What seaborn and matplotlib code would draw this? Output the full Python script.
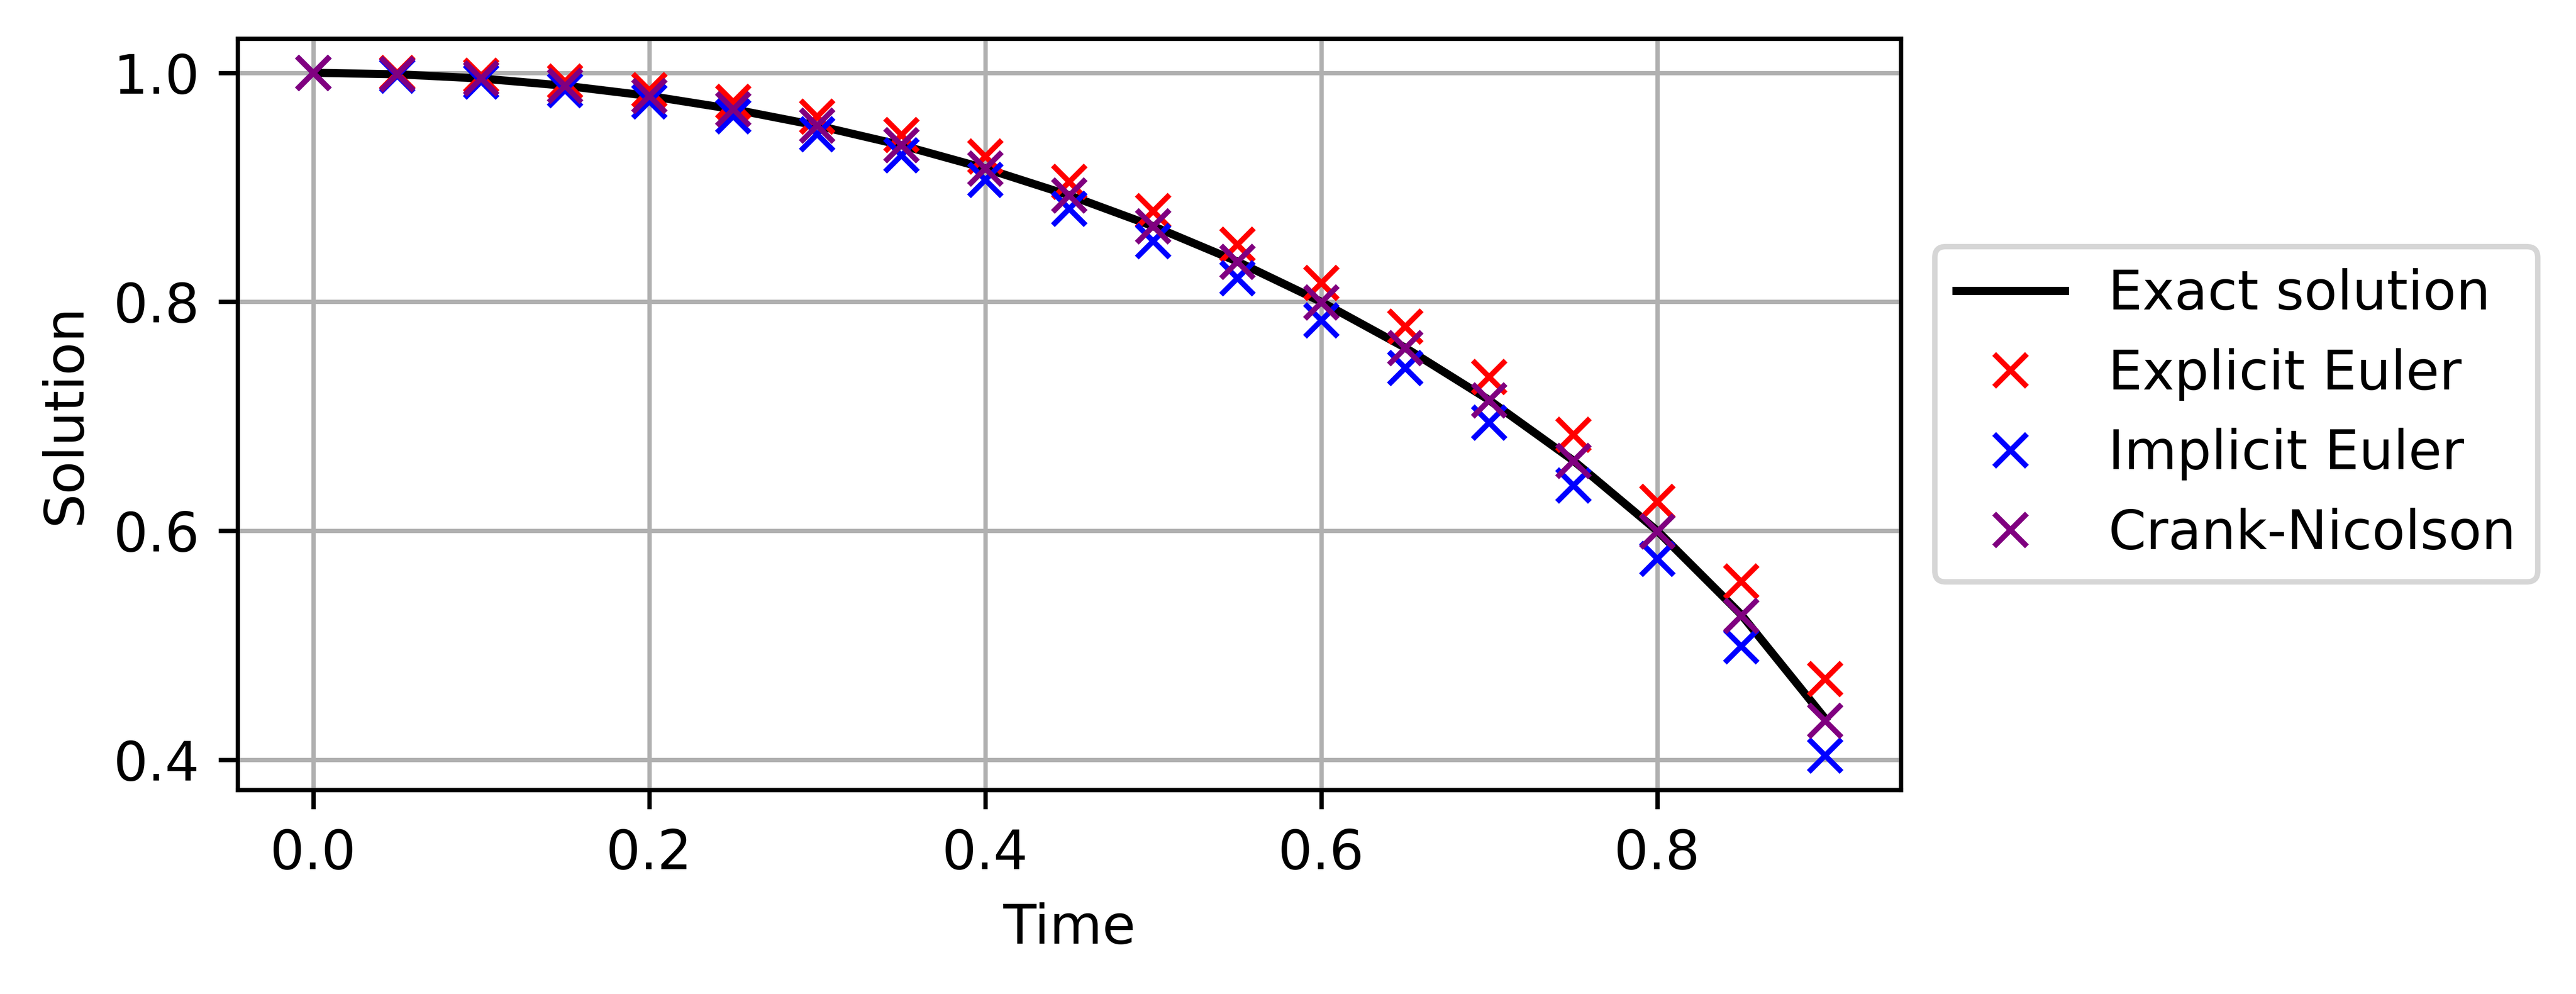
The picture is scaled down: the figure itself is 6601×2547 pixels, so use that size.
import matplotlib
matplotlib.use("Agg")
import matplotlib.pyplot as plt
import seaborn as sns

# time grid and solutions
time = [0.00, 0.05, 0.10, 0.15, 0.20, 0.25, 0.30, 0.35, 0.40, 0.45,
        0.50, 0.55, 0.60, 0.65, 0.70, 0.75, 0.80, 0.85, 0.90]
exact = [1.0000, 0.9987, 0.9950, 0.9887, 0.9798, 0.9682, 0.9539, 0.9368, 0.9165, 0.8930,
         0.8660, 0.8352, 0.8000, 0.7599, 0.7141, 0.6614, 0.6000, 0.5268, 0.4359]
explicit = [1.0000, 1.0000, 0.9975, 0.9925, 0.9848, 0.9746, 0.9616, 0.9457, 0.9269, 0.9048,
            0.8793, 0.8500, 0.8165, 0.7782, 0.7344, 0.6840, 0.6254, 0.5559, 0.4707]
implicit = [1.0000, 0.9975, 0.9925, 0.9849, 0.9748, 0.9620, 0.9464, 0.9278, 0.9063, 0.8814,
            0.8530, 0.8206, 0.7839, 0.7421, 0.6945, 0.6396, 0.5757, 0.4992, 0.4036]
crank = [1.0000, 0.9987, 0.9950, 0.9887, 0.9798, 0.9682, 0.9539, 0.9367, 0.9165, 0.8929,
         0.8659, 0.8350, 0.7996, 0.7597, 0.7138, 0.6610, 0.5994, 0.5258, 0.4341]

fig = plt.figure(figsize=(6.601, 2.547), dpi=1000)
ax = fig.add_axes([0.09226, 0.20534, 0.64566, 0.75579])

sns.lineplot(x=time, y=exact, color='black', label='Exact solution', ax=ax)
for vals, col, name in [(explicit, 'red', 'Explicit Euler'),
                        (implicit, 'blue', 'Implicit Euler'),
                        (crank, 'purple', 'Crank-Nicolson')]:
    sns.lineplot(x=time, y=vals, color=col, marker='x', linestyle='', markersize=6,
                 markeredgewidth=1, markeredgecolor=col, label=name, ax=ax)

ax.set_xlabel('Time')
ax.set_ylabel('Solution')
ax.grid(True)
ax.legend(loc='center left', bbox_to_anchor=(1.004, 0.5))

fig.savefig('out.png', dpi=1000)
